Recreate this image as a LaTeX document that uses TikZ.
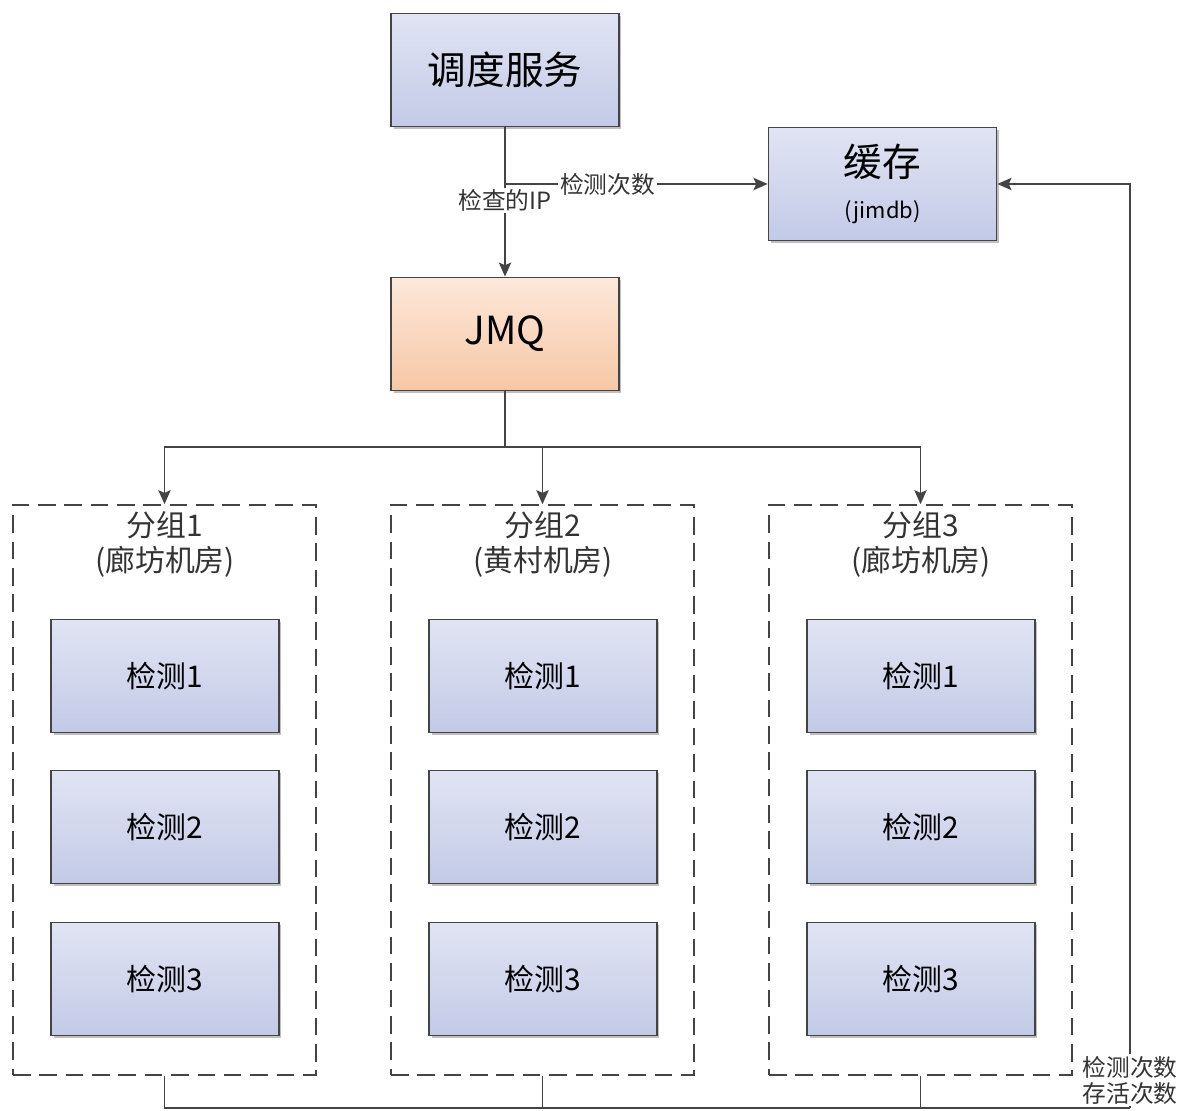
\documentclass[tikz,border=0pt]{standalone}
\usepackage{fontspec}
\setmainfont{Noto Sans CJK SC}
\usetikzlibrary{arrows.meta,shadows}

\definecolor{boxtop}{HTML}{E0E4F3}
\definecolor{boxbot}{HTML}{C3CAE7}
\definecolor{mqtop}{HTML}{FDE8DA}
\definecolor{mqbot}{HTML}{F6C7A5}
\definecolor{linecol}{HTML}{444444}

\tikzset{
	box/.style={draw=linecol, line width=1pt, top color=boxtop, bottom color=boxbot,
		minimum width=4.56cm, minimum height=2.26cm, align=center,
		drop shadow={shadow xshift=0.05cm, shadow yshift=-0.05cm, opacity=0.25, fill=black}},
	mqbox/.style={box, top color=mqtop, bottom color=mqbot},
	grp/.style={draw=linecol, dashed, dash pattern=on 10pt off 5pt, line width=0.9pt,
		minimum width=6.06cm, minimum height=11.4cm},
	conn/.style={draw=linecol, line width=0.9pt},
	arr/.style={conn, -{Stealth[length=8pt, width=7pt, inset=1.5pt]}},
	lbl/.style={fill=white, inner sep=1pt, font=\fontsize{13.5}{15}\selectfont, text=black!80},
}

\begin{document}
\begin{tikzpicture}[x=0.02cm, y=-0.02cm]
			\useasboundingbox (0,0) rectangle (1180,1111);
			\node[box, font=\fontsize{22}{26}\selectfont] (sched) at (505,70) {调度服务};
			\node[box, font=\fontsize{22}{26}\selectfont] (cache) at (882.5,184) {缓存\\[-2pt]{\fontsize{12.5}{14}\selectfont (jimdb)}};
			\node[mqbox, font=\fontsize{22}{26}\selectfont] (jmq) at (505,334) {JMQ};
			\draw[arr] (sched.south) -- node[lbl, pos=0.49] {检查的IP} (jmq.north);
			\draw[arr] (sched.south |- cache.west) -- node[lbl, pos=0.39] {检测次数} (cache.west);
			% groups
			\node[grp] (g1) at (164.5,790) {};
			\node[grp] (g2) at (542.5,790) {};
			\node[grp] (g3) at (920.5,790) {};
			\node[align=center, font=\fontsize{17}{20}\selectfont, text=black!80] (t1) at (165,544) {分组1\\(廊坊机房)};
			\node[align=center, font=\fontsize{17}{20}\selectfont, text=black!80] (t2) at (543,544) {分组2\\(黄村机房)};
			\node[align=center, font=\fontsize{17}{20}\selectfont, text=black!80] (t3) at (921,544) {分组3\\(廊坊机房)};
			\foreach \g/\x in {1/165,2/543,3/921} {
				\node[box, font=\fontsize{17}{20}\selectfont] (c\g a) at (\x,676) {检测1};
				\node[box, font=\fontsize{17}{20}\selectfont] (c\g b) at (\x,827) {检测2};
				\node[box, font=\fontsize{17}{20}\selectfont] (c\g c) at (\x,979) {检测3};
			}
			% jmq to groups
			\coordinate (bus) at (505,447);
			\draw[conn] (jmq.south) -- (bus);
			\foreach \g in {g1,g2,g3}
				\draw[arr] (bus) -| (\g.north);
			% groups back to cache
			\coordinate (ret) at (1130,1108);
			\foreach \g in {g1,g2,g3}
				\draw[conn] (\g.south) |- (ret);
			\draw[arr] (ret) |- node[lbl, pos=0.015, align=center, font=\fontsize{13.5}{15}\selectfont] {检测次数\\存活次数} (cache.east);
		\end{tikzpicture}
\end{document}
